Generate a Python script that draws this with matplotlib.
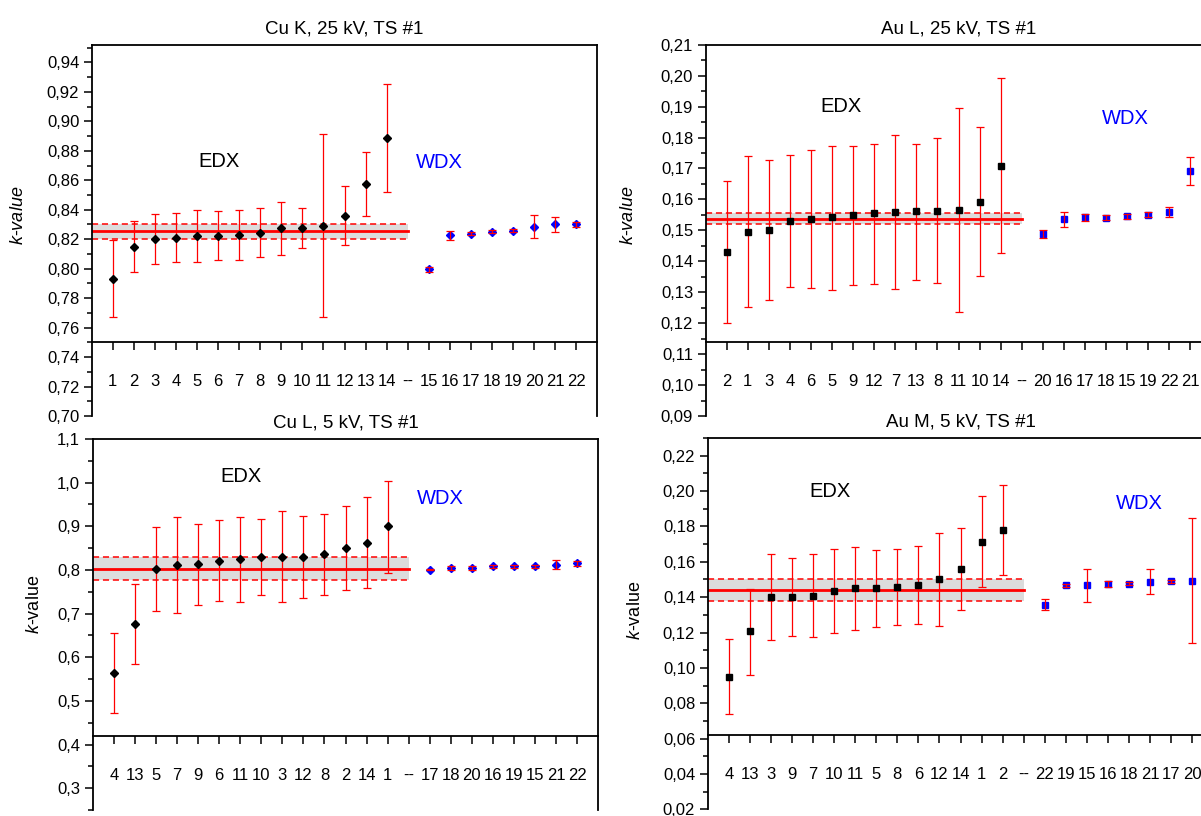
import matplotlib
matplotlib.use("Agg")
import matplotlib.pyplot as plt
from matplotlib.ticker import MultipleLocator, FuncFormatter

plt.rcParams['font.family'] = ['Liberation Sans', 'DejaVu Sans']
plt.rcParams['mathtext.fontset'] = 'custom'
plt.rcParams['mathtext.it'] = 'Liberation Sans:italic'
plt.rcParams['mathtext.rm'] = 'Liberation Sans'

# ---- Cu K, 25 kV ----
cuk_edx_labels = ['1', '2', '3', '4', '5', '6', '7', '8', '9', '10', '11', '12', '13', '14']
cuk_edx_val = [0.793, 0.815, 0.820, 0.821, 0.822, 0.8224, 0.8226, 0.824, 0.8273, 0.8276, 0.829, 0.8359, 0.8574, 0.8888]
cuk_edx_hi = [0.8195, 0.8323, 0.8374, 0.838, 0.8395, 0.8388, 0.840, 0.841, 0.845, 0.841, 0.8915, 0.8558, 0.879, 0.9256]
cuk_edx_lo = [0.767, 0.798, 0.803, 0.8047, 0.8047, 0.806, 0.806, 0.8076, 0.809, 0.8139, 0.767, 0.8159, 0.8359, 0.852]
cuk_wdx_labels = ['15', '16', '17', '18', '19', '20', '21', '22']
cuk_wdx_val = [0.7995, 0.8226, 0.8237, 0.8251, 0.8258, 0.8285, 0.830, 0.830]
cuk_wdx_hi = [0.801, 0.8258, 0.8247, 0.8263, 0.827, 0.8365, 0.835, 0.8318]
cuk_wdx_lo = [0.798, 0.8197, 0.8227, 0.8239, 0.8246, 0.8206, 0.8251, 0.828]
cuk_mean = [0.8255, 0.8204, 0.8305]

# ---- Au L, 25 kV ----
aul_edx_labels = ['2', '1', '3', '4', '6', '5', '9', '12', '7', '13', '8', '11', '10', '14']
aul_edx_val = [0.1430, 0.1494, 0.1500, 0.1530, 0.1537, 0.1542, 0.1549, 0.1555, 0.1560, 0.1561, 0.1564, 0.1566, 0.1593, 0.1709]
aul_edx_hi = [0.1658, 0.1739, 0.1726, 0.1745, 0.1760, 0.1774, 0.1774, 0.1780, 0.1808, 0.1780, 0.1797, 0.1894, 0.1834, 0.1991]
aul_edx_lo = [0.1200, 0.1252, 0.1274, 0.1316, 0.1313, 0.1308, 0.1325, 0.1327, 0.1310, 0.1341, 0.1331, 0.1237, 0.1352, 0.1426]
aul_wdx_labels = ['20', '16', '17', '18', '15', '19', '22', '21']
aul_wdx_val = [0.1488, 0.1536, 0.1542, 0.1541, 0.1545, 0.1551, 0.1559, 0.1691]
aul_wdx_hi = [0.1502, 0.1559, 0.1552, 0.1549, 0.1552, 0.1558, 0.1574, 0.1737]
aul_wdx_lo = [0.1475, 0.1512, 0.1529, 0.1532, 0.1538, 0.1544, 0.1543, 0.1646]
aul_mean = [0.1537, 0.1521, 0.1556]

# ---- Cu L, 5 kV ----
cul_edx_labels = ['4', '13', '5', '7', '9', '6', '11', '10', '3', '12', '8', '2', '14', '1']
cul_edx_val = [0.564, 0.6756, 0.803, 0.8122, 0.813, 0.8214, 0.8244, 0.8305, 0.8305, 0.8305, 0.8359, 0.8511, 0.8626, 0.900]
cul_edx_hi = [0.6565, 0.7672, 0.8985, 0.9221, 0.9061, 0.9145, 0.9221, 0.9168, 0.9344, 0.9237, 0.9282, 0.9466, 0.9664, 1.0046]
cul_edx_lo = [0.4733, 0.5847, 0.706, 0.7023, 0.7206, 0.729, 0.7267, 0.7435, 0.726, 0.7366, 0.7435, 0.755, 0.7595, 0.7939]
cul_wdx_labels = ['17', '18', '20', '16', '19', '15', '21', '22']
cul_wdx_val = [0.8008, 0.8046, 0.8046, 0.8084, 0.8084, 0.8084, 0.8122, 0.8153]
cul_wdx_hi = [0.8028, 0.8086, 0.8096, 0.8124, 0.8114, 0.8114, 0.823, 0.8214]
cul_wdx_lo = [0.7988, 0.8006, 0.7996, 0.8044, 0.8054, 0.8054, 0.8015, 0.810]
cul_mean = [0.803, 0.7779, 0.8298]

# ---- Au M, 5 kV ----
aum_edx_labels = ['4', '13', '3', '9', '7', '10', '11', '5', '8', '6', '12', '14', '1', '2']
aum_edx_val = [0.0951, 0.1206, 0.1400, 0.1402, 0.1409, 0.1434, 0.1453, 0.1453, 0.1458, 0.1468, 0.1500, 0.1560, 0.1713, 0.1781]
aum_edx_hi = [0.1162, 0.1449, 0.1645, 0.1623, 0.1645, 0.1672, 0.1683, 0.1668, 0.1672, 0.1687, 0.1764, 0.1792, 0.1970, 0.2036]
aum_edx_lo = [0.0740, 0.0960, 0.1157, 0.1183, 0.1172, 0.1198, 0.1217, 0.1232, 0.1242, 0.1249, 0.1236, 0.1328, 0.1458, 0.1526]
aum_wdx_labels = ['22', '19', '15', '16', '18', '21', '17', '20']
aum_wdx_val = [0.1358, 0.1466, 0.1468, 0.1475, 0.1477, 0.1487, 0.1489, 0.1494]
aum_wdx_hi = [0.1387, 0.1476, 0.1562, 0.1490, 0.1485, 0.1557, 0.1499, 0.1849]
aum_wdx_lo = [0.1330, 0.1456, 0.1375, 0.1460, 0.1469, 0.1417, 0.1479, 0.1142]
aum_mean = [0.1438, 0.1377, 0.1500]

panels = [
    dict(title='Cu K, 25 kV, TS #1', rect=[0.0764, 0.4902, 0.421, 0.455], ylim=(0.70, 0.952),
         major=0.02, minor=0.01, fmt='{:.2f}', marker='D', ms=4.5, ylab='$k$-$value$',
         ylab_pos=(-0.128, 0.54), edx_pos=(6.05, 0.873), wdx_pos=(16.5, 0.872),
         edx=(cuk_edx_labels, cuk_edx_val, cuk_edx_hi, cuk_edx_lo),
         wdx=(cuk_wdx_labels, cuk_wdx_val, cuk_wdx_hi, cuk_wdx_lo), mean=cuk_mean),
    dict(title='Au L, 25 kV, TS #1', rect=[0.5876, 0.4902, 0.421, 0.455], ylim=(0.09, 0.21),
         major=0.01, minor=0.005, fmt='{:.2f}', marker='s', ms=4.2, ylab='$k$-$value$',
         ylab_pos=(-0.136, 0.54), edx_pos=(6.4, 0.190), wdx_pos=(19.9, 0.186),
         edx=(aul_edx_labels, aul_edx_val, aul_edx_hi, aul_edx_lo),
         wdx=(aul_wdx_labels, aul_wdx_val, aul_wdx_hi, aul_wdx_lo), mean=aul_mean),
    dict(title='Cu L, 5 kV, TS #1', rect=[0.0772, 0.00735, 0.421, 0.4547], ylim=(0.25, 1.1),
         major=0.1, minor=0.05, fmt='{:.1f}', marker='D', ms=4.5, ylab='$k$-value',
         ylab_pos=(-0.098, 0.553), edx_pos=(7.05, 1.015), wdx_pos=(16.5, 0.964),
         edx=(cul_edx_labels, cul_edx_val, cul_edx_hi, cul_edx_lo),
         wdx=(cul_wdx_labels, cul_wdx_val, cul_wdx_hi, cul_wdx_lo), mean=cul_mean),
    dict(title='Au M, 5 kV, TS #1', rect=[0.5893, 0.0082, 0.421, 0.4554], ylim=(0.02, 0.2302),
         major=0.02, minor=0.01, fmt='{:.2f}', marker='s', ms=4.2, ylab='$k$-value',
         ylab_pos=(-0.127, 0.536), edx_pos=(5.8, 0.1995), wdx_pos=(20.5, 0.1932),
         edx=(aum_edx_labels, aum_edx_val, aum_edx_hi, aum_edx_lo),
         wdx=(aum_wdx_labels, aum_wdx_val, aum_wdx_hi, aum_wdx_lo), mean=aum_mean),
]

fig = plt.figure(figsize=(12.01, 8.16), dpi=100)

for p in panels:
    ax = fig.add_axes(p['rect'])
    e_lab, e_val, e_hi, e_lo = p['edx']
    w_lab, w_val, w_hi, w_lo = p['wdx']
    n_e = len(e_lab)
    xe = list(range(1, n_e + 1))
    xw = list(range(n_e + 2, n_e + 2 + len(w_lab)))

    # mean value with its uncertainty band
    m, lo, hi = p['mean']
    ax.fill_between([0, n_e + 1], lo, hi, color='#dcdcdc', lw=0, zorder=1)
    ax.plot([0, n_e + 1], [m, m], color='red', lw=2, zorder=2)
    ax.plot([0, n_e + 1], [lo, lo], color='red', lw=1.1, ls=(0, (4, 2.5)), zorder=2)
    ax.plot([0, n_e + 1], [hi, hi], color='red', lw=1.1, ls=(0, (4, 2.5)), zorder=2)

    # EDX
    ax.errorbar(xe, e_val, yerr=[[v - l for v, l in zip(e_val, e_lo)], [h - v for v, h in zip(e_val, e_hi)]],
                fmt='none', ecolor='red', elinewidth=0.9, capsize=2.6, capthick=0.9, zorder=3)
    ax.plot(xe, e_val, ls='none', marker=p['marker'], ms=p['ms'], color='black', zorder=4)
    # WDX
    ax.plot(xw, w_val, ls='none', marker=p['marker'], ms=p['ms'], color='blue', zorder=3)
    ax.errorbar(xw, w_val, yerr=[[v - l for v, l in zip(w_val, w_lo)], [h - v for v, h in zip(w_val, w_hi)]],
                fmt='none', ecolor='red', elinewidth=0.9, capsize=2.6, capthick=0.9, zorder=4)

    ax.set_xlim(0, 24)
    ax.set_ylim(*p['ylim'])
    ax.set_xticks(xe + [n_e + 1] + xw)
    ax.set_xticklabels(e_lab + ['--'] + w_lab)
    ax.yaxis.set_major_locator(MultipleLocator(p['major']))
    ax.yaxis.set_minor_locator(MultipleLocator(p['minor']))
    fmt = p['fmt']
    ax.yaxis.set_major_formatter(FuncFormatter(lambda v, pos, fmt=fmt: fmt.format(v).replace('.', ',')))

    ax.spines['bottom'].set_position(('axes', 0.2))
    for s in ax.spines.values():
        s.set_linewidth(1.3)
    ax.tick_params(axis='x', direction='out', length=6, width=1.1, pad=17, labelsize=12)
    ax.tick_params(axis='y', which='major', direction='out', length=6, width=1.1, pad=3, labelsize=12)
    ax.tick_params(axis='y', which='minor', direction='out', length=3.5, width=1.1)

    ax.set_title(p['title'], fontsize=13.5, pad=8)
    ax.set_ylabel(p['ylab'], fontsize=13)
    ax.yaxis.set_label_coords(*p['ylab_pos'])
    ax.text(*p['edx_pos'], 'EDX', fontsize=14.5, color='black', ha='center', va='center')
    ax.text(*p['wdx_pos'], 'WDX', fontsize=14.5, color='blue', ha='center', va='center')

fig.savefig('out.png', dpi=100)
